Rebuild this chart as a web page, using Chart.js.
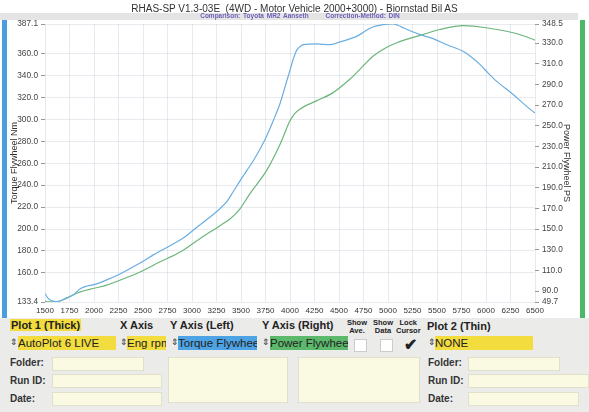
<!DOCTYPE html>
<html>
<head>
<meta charset="utf-8">
<script src="https://cdn.jsdelivr.net/npm/chart.js@4.4.1/dist/chart.umd.min.js"></script>
<style>
  body { margin: 0; width: 589px; height: 412px; position: relative; overflow: hidden; background: #fff;
         font-family: "Liberation Sans", Arial, sans-serif; color: #222; }
  #chartBox { position: absolute; left: 0; top: 0; width: 589px; height: 318px; }
  .abs { position: absolute; white-space: nowrap; }
  .title { left: 0; width: 589px; top: 3px; text-align: center; font-size: 10px; color: #333; }
  .sub { left: 0; width: 600px; top: 12px; text-align: center; font-size: 6.5px; font-weight: bold; color: #6a5fb5; word-spacing: 1px; }
  .band { left: 0; top: 13px; width: 578px; height: 7px; background: #e4e4e4; }
  .bar { top: 20px; width: 5px; height: 299px; }
  .panel { left: 0; top: 318px; width: 589px; height: 94px; background: #ebebea; }
  .hd { font-size: 11px; font-weight: bold; top: 319px; }
  .small { font-size: 7.5px; font-weight: bold; text-align: center; line-height: 8px; top: 319px; }
  .sel { top: 336px; height: 14px; font-size: 11.5px; line-height: 14px; overflow: hidden; }
  .arr { font-size: 9px; top: 337px; color: #333; }
  .lbl { font-size: 10px; font-weight: bold; color: #333; }
  .box { background: #fafae2; border: 1px solid #e0e0cc; box-sizing: border-box; }
  .chk { top: 339px; width: 13px; height: 13px; background: #fff; border: 1px solid #ccc; box-sizing: border-box; }
</style>
</head>
<body>
<div id="chartBox"><canvas id="dyno" width="589" height="318"></canvas></div>

<div class="abs band"></div>
<div class="abs title">RHAS-SP V1.3-03E&nbsp;&nbsp;(4WD - Motor Vehicle 2000+3000) - Biornstad Bil AS</div>
<div class="abs sub">Comparison: Toyota MR2 Aanseth&nbsp;&nbsp;&nbsp;&nbsp;&nbsp;&nbsp;Correction-Method: DIN</div>
<div class="abs bar" style="left:2px;background:#4a9de0"></div>
<div class="abs bar" style="left:580px;background:#4cb86a"></div>

<div class="abs panel"></div>
<div class="abs hd" style="left:10px;background:#f2dc3e;padding:0 1px">Plot 1 (Thick)</div>
<div class="abs hd" style="left:120px">X Axis</div>
<div class="abs hd" style="left:170px">Y Axis (Left)</div>
<div class="abs hd" style="left:262px">Y Axis (Right)</div>
<div class="abs small" style="left:347px">Show<br>Ave.</div>
<div class="abs small" style="left:373px">Show<br>Data</div>
<div class="abs small" style="left:396px">Lock<br>Cursor</div>
<div class="abs hd" style="left:427px;top:320px">Plot 2 (Thin)</div>

<div class="abs arr" style="left:10px">⇕</div>
<div class="abs sel" style="left:18px;width:98px;background:#f2dc3e">AutoPlot 6 LIVE</div>
<div class="abs arr" style="left:120px">⇕</div>
<div class="abs sel" style="left:127px;width:39px;background:#f2dc3e">Eng rpm</div>
<div class="abs arr" style="left:171px">⇕</div>
<div class="abs sel" style="left:178px;width:79px;background:#4ea3e4">Torque Flywheel</div>
<div class="abs arr" style="left:262px">⇕</div>
<div class="abs sel" style="left:270px;width:78px;background:#5cb96c">Power Flywheel</div>
<div class="abs chk" style="left:354px"></div>
<div class="abs chk" style="left:380px"></div>
<div class="abs" style="left:404px;top:335px;font-size:16px;font-weight:bold">✔</div>
<div class="abs arr" style="left:428px">⇕</div>
<div class="abs sel" style="left:435px;width:98px;background:#f2dc3e">NONE</div>

<div class="abs lbl" style="left:10px;top:357px">Folder:</div>
<div class="abs lbl" style="left:10px;top:375px">Run ID:</div>
<div class="abs lbl" style="left:10px;top:393px">Date:</div>
<div class="abs box" style="left:52px;top:357px;width:92px;height:14px"></div>
<div class="abs box" style="left:52px;top:374px;width:110px;height:14px"></div>
<div class="abs box" style="left:52px;top:392px;width:110px;height:14px"></div>
<div class="abs box" style="left:168px;top:357px;width:120px;height:46px"></div>
<div class="abs box" style="left:298px;top:357px;width:122px;height:46px"></div>
<div class="abs lbl" style="left:428px;top:357px">Folder:</div>
<div class="abs lbl" style="left:428px;top:375px">Run ID:</div>
<div class="abs lbl" style="left:428px;top:393px">Date:</div>
<div class="abs box" style="left:468px;top:357px;width:92px;height:14px"></div>
<div class="abs box" style="left:468px;top:374px;width:121px;height:14px"></div>
<div class="abs box" style="left:468px;top:392px;width:111px;height:14px"></div>

<script>
// engine speed / torque (left axis)
const torqueRpm = [1500, 1530, 1570, 1620, 1700, 1790, 1860, 1930, 2000, 2130, 2265, 2470, 2605, 2775, 2910,
  3050, 3150, 3220, 3290, 3355, 3420, 3490, 3560, 3630, 3700, 3760, 3830, 3900, 3960, 4000, 4040, 4070,
  4110, 4140, 4270, 4410, 4500, 4610, 4680, 4750, 4820, 4950, 5050, 5100, 5160, 5250, 5330, 5460, 5600,
  5770, 5850, 5940, 6020, 6110, 6280, 6415, 6500];
const torqueNm = [141, 137, 134.5, 133.8, 136, 140, 145.5, 148, 149.2, 153.6, 159, 168.9, 176.4, 184.7, 191.7,
  201.7, 208.5, 213.5, 219, 225, 234, 244, 253.5, 263, 274, 284.5, 299, 315, 333, 345, 357, 363.5,
  367, 368.2, 368.9, 368.2, 370.5, 373.5, 375.8, 379.5, 383.5, 386.5, 387.1, 386, 383.5, 380, 377.4, 373.7, 368.2,
  362, 357, 350, 342.5, 334.7, 322.6, 311.9, 305.8];

// engine speed / power (right axis)
const powerRpm = [1500, 1520, 1620, 1720, 1860, 1990, 2130, 2265, 2470, 2670, 2880, 3080, 3290, 3390, 3490,
  3590, 3760, 3900, 4000, 4050, 4100, 4270, 4440, 4610, 4680, 4850, 4970, 5090, 5360, 5530, 5770, 5870,
  6110, 6310, 6500];
const powerPs = [80.5, 79.7, 79.7, 83.5, 89.3, 92.6, 95.8, 100.6, 108.6, 118.2, 127.9, 140.8, 153.6, 160, 169.7,
  184.2, 206.6, 232.4, 254.8, 262, 266.1, 274.1, 282.1, 295, 301.4, 317.5, 325, 330.3, 338.4, 343.2, 347, 346.4,
  343.2, 339.3, 332.9];

// axis ticks as printed on the sheet
const leftTicks = [133.4, 160, 180, 200, 220, 240, 260, 280, 300, 320, 340, 360, 387.1];
const rightTicks = [79.5, 90, 110, 130, 150, 170, 190, 210, 230, 250, 270, 290, 310, 330, 348.5];
const rightTickLabels = ['49.7', '90.0', '110.0', '130.0', '150.0', '170.0', '190.0', '210.0', '230.0',
  '250.0', '270.0', '290.0', '310.0', '330.0', '348.5'];

const gridColor = 'rgba(185,198,210,0.35)';
const tickFont = { family: 'Liberation Sans', size: 8.3 };

const pairs = (xs, ys) => xs.map((x, i) => ({ x: x, y: ys[i] }));

new Chart(document.getElementById('dyno'), {
  type: 'line',
  data: {
    datasets: [
      { label: 'Torque Flywheel Nm', data: pairs(torqueRpm, torqueNm), yAxisID: 'y',
        borderColor: '#6aaee2', borderWidth: 1.2, pointRadius: 0, cubicInterpolationMode: 'monotone' },
      { label: 'Power Flywheel PS', data: pairs(powerRpm, powerPs), yAxisID: 'y2',
        borderColor: '#6cb67a', borderWidth: 1.2, pointRadius: 0, cubicInterpolationMode: 'monotone' }
    ]
  },
  options: {
    responsive: false,
    animation: false,
    layout: { padding: { left: 7, right: 17, top: 24, bottom: 0 } },
    plugins: { legend: { display: false }, tooltip: { enabled: false } },
    scales: {
      x: {
        type: 'linear', min: 1500, max: 6500,
        afterFit: (s) => { s.height = 16; },
        border: { display: false },
        grid: { color: gridColor, drawTicks: false },
        ticks: { stepSize: 250, autoSkip: false, maxRotation: 0, padding: 4, color: '#333',
                 font: { family: 'Liberation Sans', size: 8 }, callback: (v) => String(v) }
      },
      y: {
        position: 'left', min: 133.4, max: 387.1,
        afterFit: (s) => { s.width = 38; },
        afterBuildTicks: (s) => { s.ticks = leftTicks.map((v) => ({ value: v })); },
        border: { display: false },
        grid: { color: gridColor, tickLength: 4, tickColor: '#999' },
        ticks: { padding: 3, color: '#444', font: tickFont, callback: (v) => Number(v).toFixed(1) },
        title: { display: true, text: 'Torque Flywheel Nm', color: '#333', padding: { top: 2, bottom: 0 },
                 font: { family: 'Liberation Sans', size: 9 } }
      },
      y2: {
        position: 'right', min: 79.5, max: 348.5,
        afterFit: (s) => { s.width = 37; },
        afterBuildTicks: (s) => { s.ticks = rightTicks.map((v) => ({ value: v })); },
        border: { display: false },
        grid: { drawOnChartArea: false, tickLength: 4, tickColor: '#999' },
        ticks: { padding: 3, color: '#444', font: tickFont,
                 callback: (v, i) => rightTickLabels[i] },
        title: { display: true, text: 'Power Flywheel PS', color: '#333', padding: { top: 0, bottom: 0 },
                 font: { family: 'Liberation Sans', size: 9 } }
      }
    }
  }
});
</script>
</body>
</html>
